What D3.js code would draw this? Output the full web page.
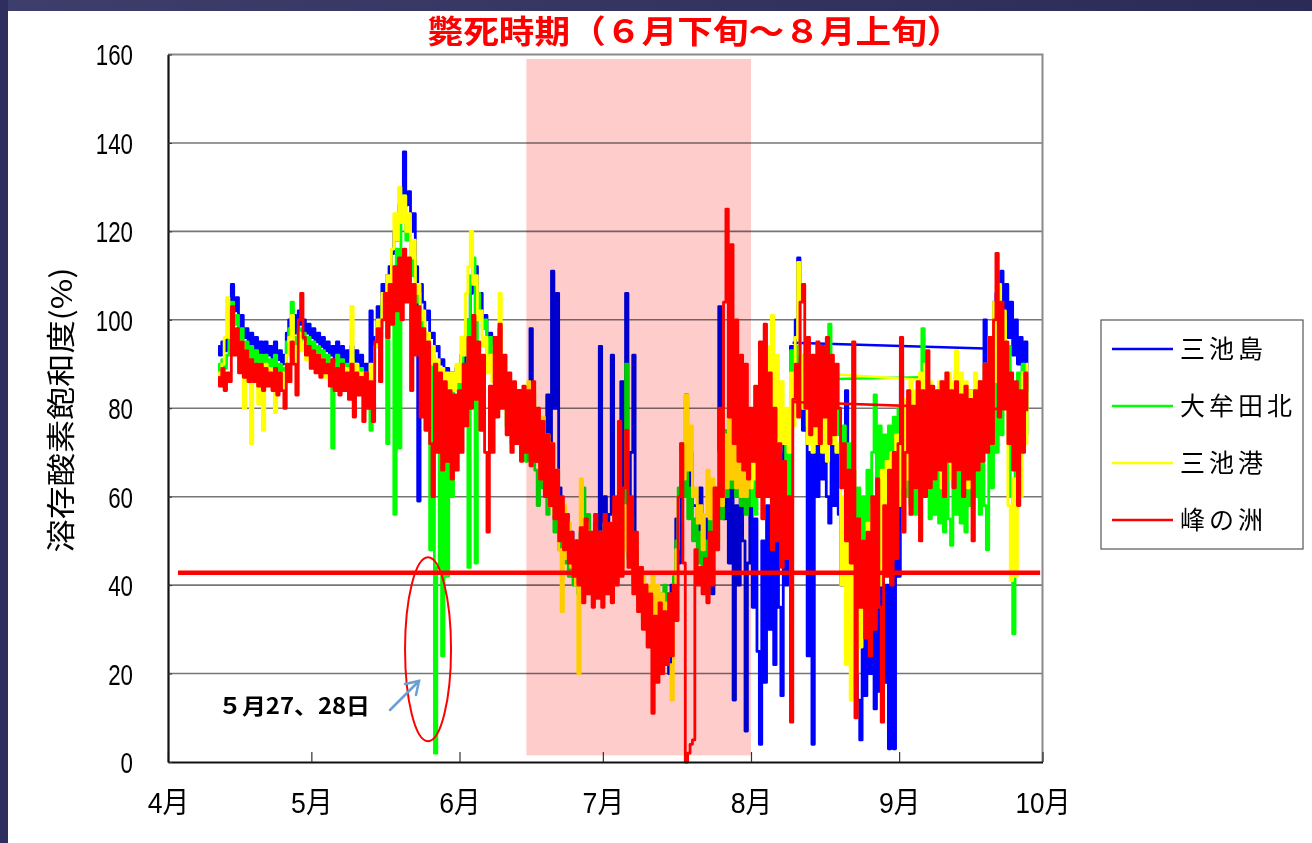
<!DOCTYPE html>
<html>
<head>
<meta charset="utf-8">
<script src="https://cdn.jsdelivr.net/npm/d3@7"></script>
<style>
  body { margin: 0; background: #fff; }
  svg { display: block; }
</style>
</head>
<body>
<div id="chart"></div>
<script>
// ---- data ----
const monthLabels = ["4月", "5月", "6月", "7月", "8月", "9月", "10月"];
const yTickValues = [0, 20, 40, 60, 80, 100, 120, 140, 160];
const stationNames = ["三池島", "大牟田北", "三池港", "峰の洲"];
const stationColors = ["#0000ff", "#00ff00", "#ffff00", "#ff0000"];

// readings every half day, starting 10.5 days after April 1
const firstDay = 10.5, dayStep = 0.5;

const mikeshima = [
  94,92,95,93,96,100,108,102,105,98,101,96,98,94,97,93,96,92,95,92,
  95,92,94,90,95,91,93,90,92,97,100,96,101,97,102,99,100,97,99,96,
  98,95,97,94,96,93,95,92,94,91,95,90,94,84,93,90,94,89,93,88,
  92,86,90,84,102,86,96,103,98,108,104,110,112,115,120,118,126,124,138,126,
  129,120,124,112,59,108,104,100,102,96,97,93,94,90,91,88,89,86,88,86,
  89,87,92,90,98,100,106,108,112,104,106,100,101,96,97,94,96,92,98,90,
  88,82,86,80,85,78,84,76,82,74,80,98,72,78,68,74,64,72,83,70,
  111,80,106,62,58,50,56,46,52,42,50,40,52,38,50,40,52,38,54,42,
  94,52,60,42,56,92,48,58,44,86,60,106,50,70,92,45,40,44,36,40,
  34,28,36,26,34,28,36,26,38,20,40,36,55,45,70,60,83,62,70,58,
  58,50,62,48,55,40,53,38,50,60,103,70,55,68,45,62,14,58,40,65,
  50,7,45,60,35,55,25,4,50,18,58,30,52,22,55,35,15,75,40,50,
  94,90,100,114,90,75,85,24,70,4,72,60,78,64,75,60,54,72,58,70,
  56,40,50,84,30,45,18,40,14,5,38,15,40,20,42,12,38,16,42,18,
  40,3,45,3,50,42,88,60,74,62,78,64,76,62,80,66,78,64,80,66,
  78,66,80,68,82,66,80,70,84,88,70,82,68,80,70,84,72,85,74,86,
  80,100,85,95,90,104,106,98,111,100,108,96,104,92,100,90,96,88,95,84
];

const omutaKita = [
  90,88,91,89,92,96,104,99,101,95,98,93,95,91,94,90,93,89,92,89,
  92,89,91,87,92,88,90,86,89,95,98,104,96,93,98,95,97,93,96,92,
  95,91,94,90,93,89,92,88,71,89,92,87,91,86,90,85,91,84,90,85,
  89,84,88,83,75,88,94,98,96,104,100,72,108,104,56,116,71,122,128,118,
  122,110,114,104,106,98,100,80,95,48,92,2,44,88,24,86,42,86,60,84,
  88,84,90,94,100,44,110,114,45,106,102,98,100,92,96,90,95,88,96,86,
  88,76,86,72,84,74,82,70,83,68,80,70,82,66,58,72,62,70,56,64,
  62,52,58,48,55,45,52,42,50,40,48,38,52,62,45,56,42,50,40,48,
  50,38,52,40,50,38,54,42,60,44,58,90,46,56,40,48,36,42,32,40,
  30,38,28,36,30,38,32,40,30,38,34,42,50,62,72,60,68,55,62,50,
  55,45,52,42,50,44,56,48,62,50,70,55,75,60,80,62,76,60,72,58,
  70,56,72,58,74,56,76,60,80,62,78,60,74,56,70,54,68,56,72,60,
  93,88,94,86,92,80,88,76,86,74,84,72,86,74,82,76,99,78,86,74,
  80,66,76,60,72,54,66,48,62,44,60,50,66,52,70,83,64,76,58,74,
  60,76,56,78,62,80,64,82,60,78,58,76,56,80,60,98,62,78,55,76,
  56,74,54,72,52,76,55,49,72,56,78,54,74,52,76,58,80,60,78,56,
  76,58,48,82,62,90,70,96,74,100,80,94,60,29,76,88,70,90,74,86
];

const mikeKo = [
  88,86,90,96,105,96,100,94,97,92,95,80,93,89,72,90,88,81,90,75,
  90,86,89,85,79,88,85,88,84,92,96,101,94,90,97,93,95,91,93,90,
  93,89,92,88,91,87,90,86,90,85,89,84,88,84,89,86,103,88,90,84,
  88,83,87,82,90,85,94,100,96,106,102,110,106,116,124,118,130,122,128,120,
  124,114,118,106,108,100,102,95,97,90,94,87,91,86,89,85,88,84,88,84,
  90,86,96,92,106,112,120,108,110,100,102,94,96,88,92,86,94,90,106,92,
  88,78,86,74,84,72,82,70,84,74,86,72,84,70,80,66,78,62,74,58,
  72,56,66,48,34,58,46,54,44,50,40,20,64,46,54,40,52,38,50,40,
  52,38,54,40,50,38,56,42,60,44,58,48,54,44,48,38,44,34,42,32,
  40,30,42,28,40,26,38,24,36,22,14,40,48,60,70,64,83,66,76,60,
  62,54,58,48,56,66,55,64,52,62,70,58,74,62,80,64,78,62,74,60,
  72,60,74,62,76,64,80,70,88,74,94,80,101,76,92,70,86,72,80,70,
  88,76,96,113,92,80,88,72,86,70,84,72,86,70,82,68,84,72,88,70,
  72,40,60,22,50,14,45,20,48,26,50,30,54,34,58,38,62,40,66,44,
  68,48,70,52,74,58,78,62,82,64,86,66,84,64,88,68,90,66,86,64,
  84,66,86,62,84,68,88,64,86,93,66,88,64,86,62,84,66,88,70,86,
  72,90,76,96,80,104,86,108,90,102,84,58,41,64,42,80,60,88,72,90
];

const minenosu = [
  87,85,89,84,88,86,103,92,98,88,95,87,93,86,91,86,90,85,90,84,
  89,85,88,84,89,83,88,84,80,90,86,95,90,83,100,106,96,92,94,89,
  93,88,92,87,91,88,90,85,91,84,89,83,90,84,88,82,90,78,88,83,
  87,77,88,80,86,77,95,98,86,100,106,96,108,99,112,102,114,100,116,104,
  114,84,108,92,103,78,98,75,95,72,60,90,70,88,66,86,68,84,64,83,
  66,84,70,90,76,96,80,101,82,95,75,92,70,52,85,70,96,78,99,80,
  92,74,88,70,86,72,84,68,85,70,84,67,86,68,80,64,77,60,74,58,
  72,55,66,50,60,48,56,45,52,42,50,40,53,36,55,38,52,35,56,37,
  52,35,56,38,54,36,60,40,77,42,62,75,44,60,38,52,34,44,30,40,
  26,38,11,33,18,36,20,34,22,38,24,40,32,60,72,45,0,2,4,5,
  48,40,44,38,46,36,52,40,62,48,80,60,104,125,78,117,72,100,68,92,
  66,90,64,80,68,85,60,95,55,99,60,88,48,80,50,72,44,68,46,60,
  9,82,90,78,104,108,80,96,74,92,76,95,72,94,78,96,72,92,74,90,
  80,62,72,50,66,45,95,10,55,35,50,28,52,24,60,30,64,35,9,58,
  42,66,40,70,46,72,96,52,70,84,56,80,62,86,50,84,60,93,62,85,
  64,84,66,86,60,88,68,84,62,86,66,83,60,85,64,82,50,84,66,86,
  68,90,70,96,72,100,115,78,104,80,95,72,88,66,86,58,84,70,88,80
];

// straight joins across missing stretches, [day, value]
const mikeshimaJoin = [[130.7, 94.8], [170.9, 93.5]];
const omutaKitaJoin = [[139.5, 86.6], [157.9, 87.0]];
const mikeKoJoin = [[139.5, 87.7], [157.9, 86.4]];
const minenosuJoin = [[130.8, 81.4], [180.0, 79.6]];

const thresholdValue = 42.8;
const thresholdDays = [2.1, 182.5];
const dieOffDays = [75, 122];      // Jun 15 - Aug 1
const dieOffValues = [1.5, 159];

// ---- setup ----
const width = 1312, height = 843;
const plot = { left: 168, right: 1042.5, top: 54.5, bottom: 762 };
const startDate = new Date(2011, 3, 1);
const toDate = d => d3.timeHour.offset(startDate, Math.round(d * 24));

const x = d3.scaleTime()
  .domain([startDate, new Date(2011, 9, 1)])
  .range([plot.left, plot.right]);
const y = d3.scaleLinear()
  .domain([0, 160])
  .range([plot.bottom, plot.top]);

const svg = d3.select("#chart").append("svg")
  .attr("width", width)
  .attr("height", height);

svg.append("rect").attr("width", width).attr("height", height).attr("fill", "#fff");

// slide frame
const grad = svg.append("defs").append("linearGradient").attr("id", "band");
grad.append("stop").attr("offset", "0%").attr("stop-color", "#3e3e6c");
grad.append("stop").attr("offset", "100%").attr("stop-color", "#2c2b57");
svg.append("rect").attr("x", 0).attr("y", 0).attr("width", width).attr("height", 11).attr("fill", "url(#band)");
svg.append("rect").attr("x", 0).attr("y", 0).attr("width", 8).attr("height", height).attr("fill", "#2f2f5f");

// gridlines
svg.append("g")
  .selectAll("line")
  .data(yTickValues.filter(v => v > 0 && v < 160))
  .join("line")
  .attr("x1", plot.left).attr("x2", plot.right)
  .attr("y1", d => y(d)).attr("y2", d => y(d))
  .attr("stroke", "#767676")
  .attr("stroke-width", 1.6);

// series: readings are dense, drawn as steps so the daily swing fills in
const stepLine = d3.line()
  .curve(d3.curveStep)
  .x(p => x(toDate(p[0])))
  .y(p => y(p[1]));
const line = d3.line()
  .x(p => x(toDate(p[0])))
  .y(p => y(p[1]));

const toPoints = vals => vals.map((v, i) => [firstDay + i * dayStep, v]);
const series = [
  { values: mikeshima, join: mikeshimaJoin },
  { values: omutaKita, join: omutaKitaJoin },
  { values: mikeKo, join: mikeKoJoin },
  { values: minenosu, join: minenosuJoin }
];

const lines = svg.append("g")
  .attr("fill", "none")
  .attr("stroke-linejoin", "round");

series.forEach((s, i) => {
  lines.append("path")
    .attr("d", stepLine(toPoints(s.values)))
    .attr("stroke", stationColors[i])
    .attr("stroke-width", 2.8);
  lines.append("path")
    .attr("d", line(s.join))
    .attr("stroke", stationColors[i])
    .attr("stroke-width", 2.6);
});

// 40% line
svg.append("path")
  .attr("d", line(thresholdDays.map(d => [d, thresholdValue])))
  .attr("fill", "none")
  .attr("stroke", "#ff0000")
  .attr("stroke-width", 4.5);

// die-off period shading, multiplied over the lines
svg.append("rect")
  .attr("x", x(toDate(dieOffDays[0])))
  .attr("width", x(toDate(dieOffDays[1])) - x(toDate(dieOffDays[0])))
  .attr("y", y(dieOffValues[1]))
  .attr("height", y(dieOffValues[0]) - y(dieOffValues[1]))
  .attr("fill", "#ffcccc")
  .style("mix-blend-mode", "multiply");

// frame of plot
svg.append("path")
  .attr("d", `M${plot.left},${plot.top}H${plot.right}V${plot.bottom}`)
  .attr("fill", "none")
  .attr("stroke", "#8a8a8a")
  .attr("stroke-width", 2);

// axes
const xAxis = d3.axisBottom(x)
  .ticks(d3.timeMonth.every(1))
  .tickSizeInner(-10)
  .tickSizeOuter(0)
  .tickFormat((d, i) => monthLabels[i]);

const gx = svg.append("g")
  .attr("transform", `translate(0,${plot.bottom})`)
  .call(xAxis);
gx.select(".domain").attr("stroke", "#111").attr("stroke-width", 2.2);
gx.selectAll(".tick line").attr("stroke", "#333").attr("stroke-width", 1.2);
gx.selectAll("text")
  .attr("y", 51)
  .attr("dy", null)
  .attr("fill", "#000")
  .style("font-family", "'Liberation Sans', 'Noto Sans CJK JP', sans-serif")
  .style("font-size", "29px")
  .attr("textLength", d => (d.getMonth() + 1 >= 10 ? 2 : 1) * 13.5 + 28)
  .attr("lengthAdjust", "spacingAndGlyphs");

const yAxis = d3.axisLeft(y)
  .tickValues(yTickValues)
  .tickSizeInner(-4)
  .tickSizeOuter(0)
  .tickPadding(35);

const gy = svg.append("g")
  .attr("transform", `translate(${plot.left},0)`)
  .call(yAxis);
gy.select(".domain").attr("stroke", "#111").attr("stroke-width", 2.2);
gy.selectAll(".tick line").attr("stroke", "#333");
gy.selectAll("text")
  .attr("dy", "0.36em")
  .attr("fill", "#000")
  .style("font-family", "'Liberation Sans', sans-serif")
  .style("font-size", "29px")
  .attr("textLength", d => String(d).length * 12.4)
  .attr("lengthAdjust", "spacingAndGlyphs");

// axis title
svg.append("text")
  .attr("transform", "translate(72,410) rotate(-90)")
  .attr("text-anchor", "middle")
  .style("font-family", "'Noto Sans CJK JP', sans-serif")
  .style("font-size", "29px")
  .attr("textLength", 285)
  .attr("lengthAdjust", "spacingAndGlyphs")
  .text("溶存酸素飽和度(%)");

// title
svg.append("text")
  .attr("x", 695)
  .attr("y", 43)
  .attr("text-anchor", "middle")
  .attr("fill", "#ff0000")
  .style("font-family", "'Noto Sans CJK JP', sans-serif")
  .style("font-size", "32px")
  .style("font-weight", 700)
  .attr("textLength", 535)
  .attr("lengthAdjust", "spacingAndGlyphs")
  .text("斃死時期（６月下旬～８月上旬）");

// annotation of the 5/27-28 drop
svg.append("ellipse")
  .attr("cx", x(toDate(54.4)))
  .attr("cy", y(25.5))
  .attr("rx", 23)
  .attr("ry", 92)
  .attr("fill", "none")
  .attr("stroke", "#ff0000")
  .attr("stroke-width", 2);

svg.append("text")
  .attr("x", 218)
  .attr("y", 714)
  .style("font-family", "'Noto Sans CJK JP', serif")
  .style("font-size", "22px")
  .style("font-weight", 700)
  .attr("textLength", 152)
  .attr("lengthAdjust", "spacingAndGlyphs")
  .text("５月27、28日");

const arrow = svg.append("g")
  .attr("stroke", "#6b9fd4")
  .attr("stroke-width", 2.5)
  .attr("fill", "none")
  .attr("stroke-linecap", "round");
arrow.append("line").attr("x1", 390).attr("y1", 710).attr("x2", 419).attr("y2", 681);
arrow.append("path").attr("d", "M405,684 L419,681 L416,695");

// legend
const legend = svg.append("g").attr("transform", "translate(1101,320)");
legend.append("rect")
  .attr("width", 202).attr("height", 229)
  .attr("fill", "#fff")
  .attr("stroke", "#555")
  .attr("stroke-width", 1.2);

const entry = legend.selectAll("g.entry")
  .data(stationNames)
  .join("g")
  .attr("class", "entry")
  .attr("transform", (d, i) => `translate(0,${29 + i * 57})`);
entry.append("line")
  .attr("x1", 11).attr("x2", 72)
  .attr("stroke", (d, i) => stationColors[i])
  .attr("stroke-width", 2.6);
entry.append("text")
  .attr("x", 79)
  .attr("y", 9)
  .style("font-family", "'Noto Sans CJK JP', sans-serif")
  .style("font-size", "25px")
  .style("letter-spacing", "4px")
  .text(d => d);
</script>
</body>
</html>
